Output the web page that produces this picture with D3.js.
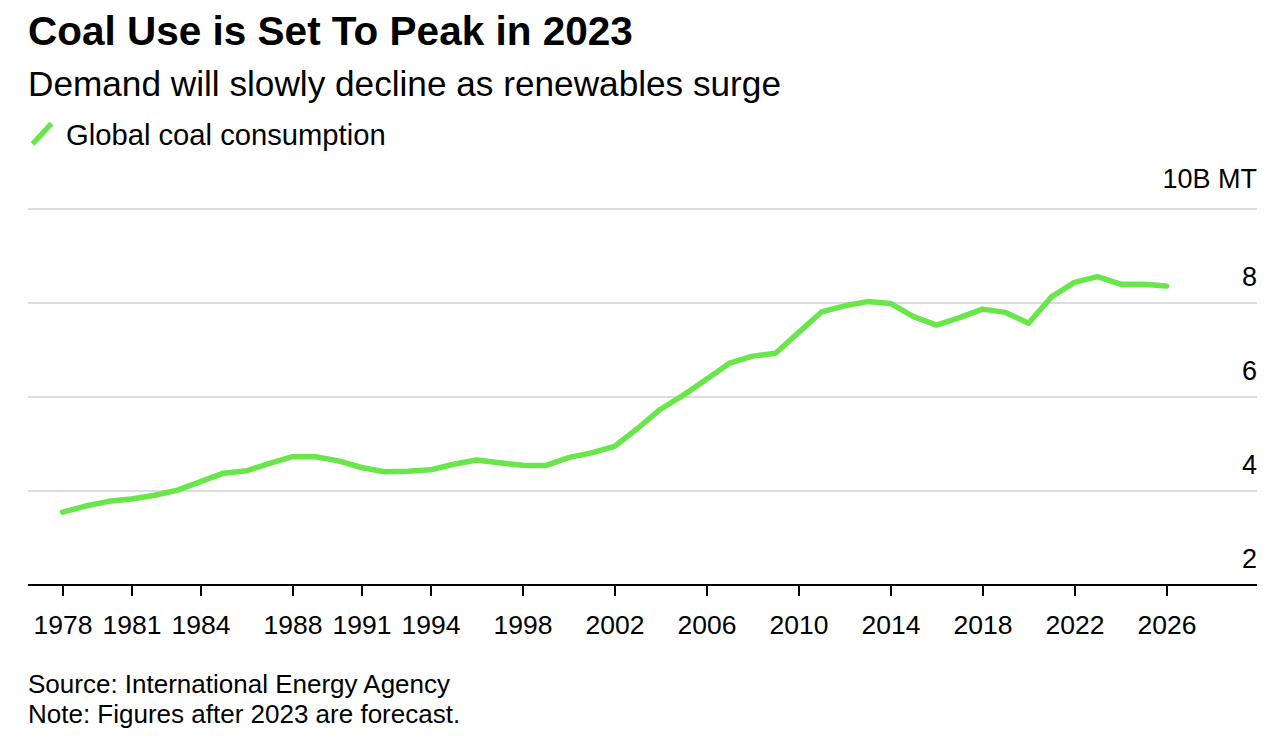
<!DOCTYPE html>
<html>
<head>
<meta charset="utf-8">
<script src="https://cdn.jsdelivr.net/npm/d3@7"></script>
<style>
  html, body { margin: 0; padding: 0; background: #fff; }
  svg { display: block; font-family: "Liberation Sans", Arial, sans-serif; }
</style>
</head>
<body>
<svg id="chart" width="1282" height="748"></svg>
<script>
const years = [1978,1979,1980,1981,1982,1983,1984,1985,1986,1987,1988,1989,1990,1991,1992,1993,1994,1995,1996,1997,1998,1999,2000,2001,2002,2003,2004,2005,2006,2007,2008,2009,2010,2011,2012,2013,2014,2015,2016,2017,2018,2019,2020,2021,2022,2023,2024,2025,2026];
const coalConsumption = [3.55,3.68,3.78,3.83,3.91,4.02,4.20,4.38,4.43,4.59,4.73,4.73,4.64,4.50,4.41,4.42,4.45,4.57,4.66,4.60,4.55,4.54,4.71,4.81,4.95,5.33,5.74,6.04,6.38,6.72,6.87,6.93,7.37,7.81,7.94,8.03,7.99,7.71,7.53,7.69,7.87,7.80,7.57,8.13,8.44,8.56,8.40,8.40,8.36];
const xTickYears = [1978,1981,1984,1988,1991,1994,1998,2002,2006,2010,2014,2018,2022,2026];
const yTickValues = [2,4,6,8,10];
const yTickLabels = ["2","4","6","8","10B MT"];

const svg = d3.select("#chart");
const left = 28, right = 1257;
const lineColor = "#68e64a";
const x = d3.scaleLinear().domain([1978, 2026]).range([62.5, 1166.5]);
const y = d3.scaleLinear().domain([2, 10]).range([585, 209]);

// Title / subtitle
svg.append("text").attr("x", 28).attr("y", 45)
  .attr("font-size", 40.5).attr("font-weight", "bold").attr("fill", "#000")
  .text("Coal Use is Set To Peak in 2023");
svg.append("text").attr("x", 28).attr("y", 96)
  .attr("font-size", 35.2).attr("fill", "#000")
  .text("Demand will slowly decline as renewables surge");

// Legend
svg.append("line").attr("x1", 32.5).attr("y1", 144).attr("x2", 51.5).attr("y2", 123.5)
  .attr("stroke", lineColor).attr("stroke-width", 5.5);
svg.append("text").attr("x", 66).attr("y", 144.5)
  .attr("font-size", 29.2).attr("fill", "#000")
  .text("Global coal consumption");

// Gridlines
const grid = svg.append("g");
grid.selectAll("line").data(yTickValues.filter(v => v > 2)).join("line")
  .attr("x1", left).attr("x2", right)
  .attr("y1", d => y(d)).attr("y2", d => y(d))
  .attr("stroke", "#dcdcdc").attr("stroke-width", 2);

// Y labels
svg.append("g").selectAll("text").data(yTickValues).join("text")
  .attr("x", right).attr("y", d => y(d) - (d === 10 ? 21 : 17))
  .attr("text-anchor", "end").attr("font-size", 27).attr("fill", "#000")
  .text((d, i) => yTickLabels[i]);

// X axis
const xAxis = d3.axisBottom(x).tickValues(xTickYears).tickFormat(d3.format("d"))
  .tickSize(11).tickPadding(0);
const gx = svg.append("g").attr("transform", `translate(0,${y(2)})`).call(xAxis);
gx.select(".domain").remove();
gx.selectAll(".tick line").attr("stroke", "#000").attr("stroke-width", 2);
gx.selectAll(".tick text").attr("font-size", 26.5).attr("fill", "#000")
  .attr("font-family", "Liberation Sans, Arial, sans-serif")
  .attr("y", 49).attr("dy", 0);
svg.append("line").attr("x1", left).attr("x2", right).attr("y1", y(2)).attr("y2", y(2))
  .attr("stroke", "#000").attr("stroke-width", 2);

// Line
const line = d3.line().x((d, i) => x(years[i])).y(d => y(d));
svg.append("path").datum(coalConsumption)
  .attr("d", line).attr("fill", "none")
  .attr("stroke", lineColor).attr("stroke-width", 5.5)
  .attr("stroke-linejoin", "round").attr("stroke-linecap", "round");

// Footer
svg.append("text").attr("x", 28).attr("y", 693)
  .attr("font-size", 26).attr("fill", "#000")
  .text("Source: International Energy Agency");
svg.append("text").attr("x", 28).attr("y", 722.5)
  .attr("font-size", 26).attr("fill", "#000")
  .text("Note: Figures after 2023 are forecast.");
</script>
</body>
</html>
